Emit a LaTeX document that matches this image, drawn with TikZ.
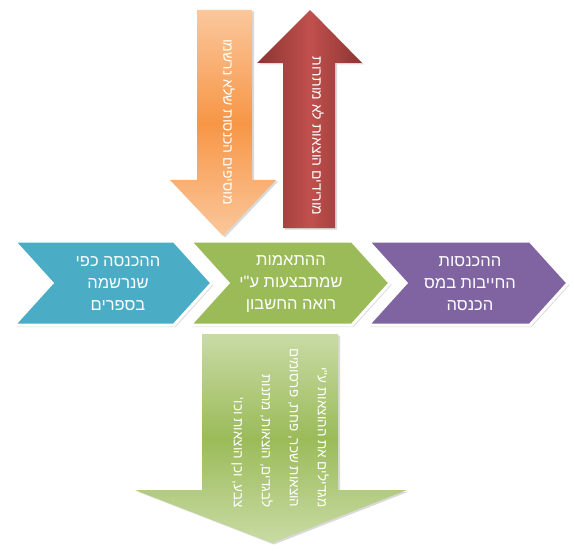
\documentclass[tikz,border=0pt]{standalone}
\usepackage{fontspec}
\setmainfont{Liberation Sans}
\newfontfamily\hebfont[Script=Hebrew]{Liberation Sans}
\TeXXeTstate=1
\usetikzlibrary{shadows}
\definecolor{boxblue}{HTML}{4BACC6}
\definecolor{boxgreen}{HTML}{9BBB59}
\definecolor{boxpurple}{HTML}{8064A2}
\definecolor{arrred}{HTML}{C0504D}
\definecolor{arrreddark}{HTML}{8E3432}
\definecolor{arrorange}{HTML}{F79646}
\definecolor{arrorangelight}{HTML}{FBC79C}
\definecolor{arrgreenlight}{HTML}{C9DBA5}

\begin{document}
\begin{tikzpicture}[x=1pt,y=-1pt,
  chev/.style={draw=white,line width=3pt,line join=miter,
    drop shadow={shadow xshift=1.5pt,shadow yshift=-2pt,opacity=0.3}},
  blockarrow/.style={drop shadow={shadow xshift=2pt,shadow yshift=-1.5pt,opacity=0.3}},
  boxtext/.style={text=white,align=center,font=\hebfont\fontsize{16.5}{22}\selectfont},
  sidetext/.style={text=white,rotate=-90,font=\hebfont\fontsize{14}{16}\selectfont}]
  \useasboundingbox (0,0) rectangle (574,551);

  % --- vertical arrows above the row ------------------------------------
  \path[blockarrow,top color=arrorangelight,bottom color=arrorangelight,middle color=arrorange]
    (197,10) -- (252,10) -- (252,180) -- (276,180) -- (223,236) -- (170,180) -- (197,180) -- cycle;
  \path[blockarrow,left color=arrreddark,right color=arrreddark,middle color=arrred]
    (283,228) -- (283,63) -- (257,63) -- (310,10) -- (362,63) -- (335,63) -- (335,228) -- cycle;
  \node[sidetext] (addText) at (229,122) {\beginR מוסיפים הכנסות שלא נרשמו\endR};
  \node[sidetext] (subText) at (318,136) {\beginR מורידים הוצאות לא מותרות\endR};

  % --- the row of chevrons ----------------------------------------------
  \path[chev,fill=boxblue]
    (14,241) -- (174,241) -- (212,283) -- (174,325) -- (14,325) -- (52,283) -- cycle;
  \path[chev,fill=boxgreen]
    (190,241) -- (352,241) -- (390,283) -- (352,325) -- (190,325) -- (228,283) -- cycle;
  \path[chev,fill=boxpurple]
    (368,241) -- (530,241) -- (568,283) -- (530,325) -- (368,325) -- (406,283) -- cycle;
  \node[boxtext] (booksText) at (118,284)
    {\beginR ההכנסה כפי\endR\\\beginR שנרשמה\endR\\\beginR בספרים\endR};
  \node[boxtext] (adjustText) at (291,284)
    {\beginR ההתאמות\endR\\\beginR שמתבצעות ע"י\endR\\\beginR רואה החשבון\endR};
  \node[boxtext] (taxText) at (470,284)
    {\beginR ההכנסות\endR\\\beginR החייבות במס\endR\\\beginR הכנסה\endR};

  % --- result arrow below -----------------------------------------------
  \path[blockarrow,top color=arrgreenlight,bottom color=arrgreenlight,middle color=boxgreen]
    (202,334) -- (338,334) -- (338,490) -- (407,490) -- (272,543) -- (135,490) -- (202,490) -- cycle;
  \node[sidetext,anchor=east,align=right,font=\hebfont\fontsize{13.5}{28}\selectfont]
    (resultText) at (280,511)
    {\beginR מגדילים את ההוצאות ע"י\endR\\
     \beginR הוצאות שכר, פחת, פרסומים\endR\\
     \beginR לבגדים, הוצאות, מתנות\endR\\
     \beginR צבע, וכן הוצאות וכו'\endR};
\end{tikzpicture}
\end{document}
